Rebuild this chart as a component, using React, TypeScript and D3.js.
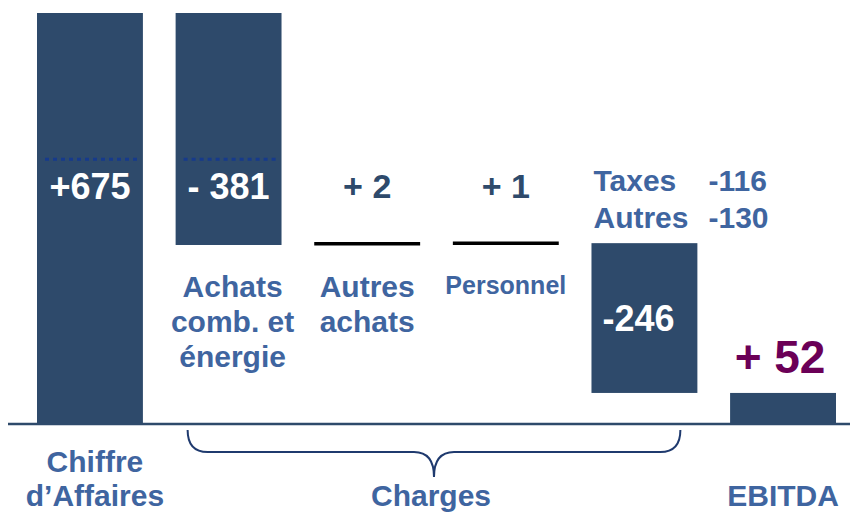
import React, { useEffect, useRef } from "react";
import * as d3 from "d3";

const categories = ["ca", "achats", "autresAchats", "personnel", "autres", "ebitda"];
const values = [675, -381, 2, 1, -246, 52];
const valueLabels = ["+675", "- 381", "+ 2", "+ 1", "-246", "+ 52"];
const kinds = ["total", "bar", "line", "line", "bar", "total"];
const categoryLabels = [
  ["Chiffre", "d\u2019Affaires"],
  ["Achats", "comb. et", "\u00e9nergie"],
  ["Autres", "achats"],
  ["Personnel"],
  [],
  ["EBITDA"],
];
const detailNames = ["Taxes", "Autres"];
const detailValues = ["-116", "-130"];
const markerLevel = 435;
const groupLabel = "Charges";

const W = 850;
const H = 514;
const barColor = "#2e4a6b";
const labelBlue = "#3f65a0";
const font = "'Liberation Sans', Arial, sans-serif";

function App() {
  const ref = useRef<SVGSVGElement>(null);

  useEffect(() => {
    const svg = d3.select(ref.current);
    svg.selectAll("*").remove();

    const x = d3.scaleBand().domain(categories).range([37, 836]).paddingInner(0.236).paddingOuter(0);
    const y = d3.scaleLinear().domain([0, 675]).range([424, 13]);

    // running totals for the waterfall
    let run = 0;
    const steps = values.map((v, i) => {
      let from, to;
      if (kinds[i] === "total") {
        from = 0;
        to = i === 0 ? v : run;
        run = to;
      } else {
        from = run;
        to = run + v;
        run = to;
      }
      return { key: categories[i], v, from, to, kind: kinds[i], label: valueLabels[i], i };
    });

    const g = svg.append("g").style("font-family", font).style("font-weight", "bold");

    // baseline
    g.append("line")
      .attr("x1", 8).attr("x2", W)
      .attr("y1", y(0)).attr("y2", y(0))
      .attr("stroke", barColor).attr("stroke-width", 2.5);

    steps.forEach((s) => {
      const bx = x(s.key)!;
      const bw = x.bandwidth();
      const cx = bx + bw / 2;
      const top = y(Math.max(s.from, s.to));
      const bot = y(Math.min(s.from, s.to));

      if (s.kind === "line") {
        g.append("line")
          .attr("x1", bx).attr("x2", bx + bw)
          .attr("y1", y(s.to)).attr("y2", y(s.to))
          .attr("stroke", "#000").attr("stroke-width", 3.5);
        g.append("text")
          .attr("x", cx).attr("y", 198)
          .attr("text-anchor", "middle")
          .attr("font-size", 34)
          .attr("fill", barColor)
          .text(s.label);
      } else {
        const last = s.i === steps.length - 1;
        g.append("rect")
          .attr("x", bx).attr("y", top)
          .attr("width", bw).attr("height", bot - top)
          .attr("fill", barColor);
        if (s.i < 2) {
          g.append("line")
            .attr("x1", bx + 8).attr("x2", bx + bw - 4)
            .attr("y1", y(markerLevel)).attr("y2", y(markerLevel))
            .attr("stroke", "#163a8c").attr("stroke-width", 3)
            .attr("stroke-dasharray", "4 4");
          g.append("text")
            .attr("x", cx).attr("y", y(markerLevel) + 40)
            .attr("text-anchor", "middle")
            .attr("font-size", 36).attr("fill", "#fff")
            .text(s.label);
        } else if (last) {
          g.append("text")
            .attr("x", cx - 3).attr("y", top - 20)
            .attr("text-anchor", "middle")
            .attr("font-size", 46).attr("fill", "#6b0057")
            .text(s.label);
        } else {
          g.append("text")
            .attr("x", cx - 6).attr("y", (top + bot) / 2 + 13)
            .attr("text-anchor", "middle")
            .attr("font-size", 36).attr("fill", "#fff")
            .text(s.label);
        }
      }

      // category labels
      const lines = categoryLabels[s.i];
      const below = s.i === 0 || s.i === steps.length - 1;
      const small = s.key === "personnel";
      lines.forEach((t, j) => {
        g.append("text")
          .attr("x", cx + (s.i === 0 ? 5 : s.i === 1 ? 4 : 0))
          .attr("y", below ? (lines.length === 1 ? 506 : 472 + j * 34) : (small ? 294 : 297 + j * 35))
          .attr("text-anchor", "middle")
          .attr("font-size", small ? 25 : 30)
          .attr("fill", labelBlue)
          .text(t);
      });
    });

    // detail breakdown of "autres" charges
    const ax = x("autres")!;
    detailNames.forEach((n, j) => {
      g.append("text")
        .attr("x", ax + 2).attr("y", 191 + j * 37)
        .attr("font-size", 30).attr("fill", labelBlue)
        .text(n);
      g.append("text")
        .attr("x", ax + 117).attr("y", 191 + j * 37)
        .attr("font-size", 30).attr("fill", labelBlue)
        .text(detailValues[j]);
    });

    // brace under the charges
    const x0 = x("achats")! + 12;
    const x1 = x("autres")! + x.bandwidth() - 17;
    const xm = (x0 + x1) / 2;
    const yT = 430, yM = 452, yB = 477, r = 20;
    const p = d3.path();
    p.moveTo(x0, yT);
    p.quadraticCurveTo(x0, yM, x0 + r, yM);
    p.lineTo(xm - r, yM);
    p.quadraticCurveTo(xm, yM, xm, yB);
    p.quadraticCurveTo(xm, yM, xm + r, yM);
    p.lineTo(x1 - r, yM);
    p.quadraticCurveTo(x1, yM, x1, yT);
    g.append("path")
      .attr("d", p.toString())
      .attr("fill", "none")
      .attr("stroke", "#1f3a6e")
      .attr("stroke-width", 2);

    g.append("text")
      .attr("x", xm - 3).attr("y", 506)
      .attr("text-anchor", "middle")
      .attr("font-size", 30).attr("fill", labelBlue)
      .text(groupLabel);
  }, []);

  return (
    <div style={{ position: "absolute", left: 0, top: 0, background: "#fff" }}>
      <svg ref={ref} width={W} height={H}></svg>
    </div>
  );
}

export default App;
